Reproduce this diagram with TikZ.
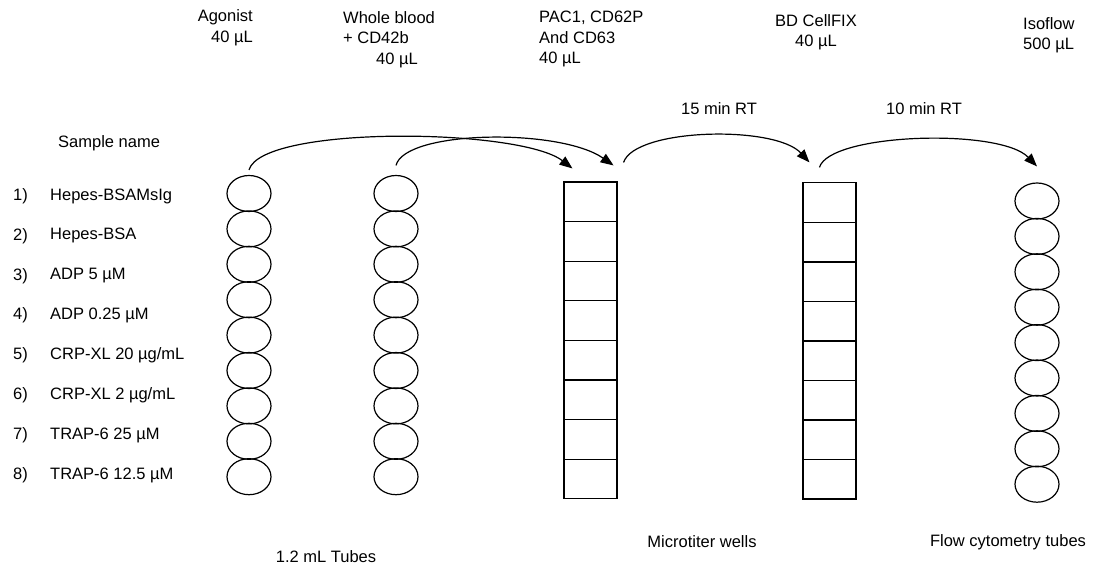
\documentclass[tikz,border=0pt]{standalone}
\usepackage{fontspec}
\setmainfont{Liberation Sans}
\usetikzlibrary{shapes.geometric,arrows.meta}

\tikzset{
  txt/.style={font=\fontsize{16.5}{20.5}\selectfont, inner sep=0pt},
  tube/.style={draw, ellipse, line width=1.2pt, minimum width=44pt, minimum height=36pt, inner sep=0pt},
  well/.style={draw, rectangle, line width=1.1pt, minimum width=53pt, minimum height=39.6pt, inner sep=0pt},
  flow/.style={line width=1.2pt, -{Triangle[length=13pt,width=10pt]}}
}

\begin{document}
\begin{tikzpicture}[x=1pt, y=-1pt]
        \useasboundingbox (0,0) rectangle (1104,567);
        % reagents added at each step
        \node[txt, align=right, anchor=east] (agonist) at (253,27.5) {Agonist\\40 µL};
        \node[txt, align=left, anchor=west] (blood) at (343,39.5) {Whole blood\\+ CD42b\\\hspace*{33pt}40 µL};
        \node[txt, align=left, anchor=west] (stain) at (539,39) {PAC1, CD62P\\And CD63\\40 µL};
        \node[txt, align=center] (fix) at (816,32) {BD CellFIX\\40 µL};
        \node[txt, align=left, anchor=west] (iso) at (1023,35) {Isoflow\\500 µL};
        \node[txt] (rt15) at (719,109) {15 min RT};
        \node[txt] (rt10) at (924,109) {10 min RT};
        % samples
        \node[txt, anchor=west] (sample) at (58,143) {Sample name};
        \foreach \i/\name in {1/Hepes-BSAMsIg, 2/Hepes-BSA, 3/{ADP 5 µM}, 4/{ADP 0.25 µM},
                5/{CRP-XL 20 µg/mL}, 6/{CRP-XL 2 µg/mL}, 7/{TRAP-6 25 µM}, 8/{TRAP-6 12.5 µM}}{
            \node[txt, anchor=west] (num\i) at (13,{196+39.9*(\i-1)}) {\i)};
            \node[txt, anchor=west] (name\i) at (50,{196+39.9*(\i-1)}) {\name};
        }
        % tubes and wells
        \foreach \i in {1,...,9}{
            \node[tube] (a\i) at (249,{193.5+35.4*(\i-1)}) {};
            \node[tube] (b\i) at (396,{193.5+35.4*(\i-1)}) {};
            \node[tube] (c\i) at (1037,{201+35.4*(\i-1)}) {};
        }
        \foreach \i in {1,...,8}{
            \node[well] (w\i) at (590.5,{201.8+39.6*(\i-1)}) {};
            \node[well] (v\i) at (829.5,{202.7+39.5*(\i-1)}) {};
        }
        \node[txt] (tubes) at (326,557) {1.2 mL Tubes};
        \node[txt] (wells) at (702,542) {Microtiter wells};
        \node[txt] (flowtubes) at (1008,542) {Flow cytometry tubes};
        % transfers
        \draw[flow] ([yshift=5pt]a1.north) .. controls (262,125) and (520,128) .. ([xshift=9pt,yshift=13pt]w1.north west);
        \draw[flow] ([yshift=9.5pt]b1.north) .. controls (405,130) and (560,128) .. ([xshift=-4pt,yshift=16pt]w1.north east);
        \draw[flow] ([xshift=6pt,yshift=19pt]w1.north east) .. controls (635,128) and (775,125) .. ([xshift=7pt,yshift=20pt]v1.north west);
        \draw[flow] ([xshift=17pt,yshift=15pt]v1.north west) .. controls (830,133) and (1000,128) .. ([yshift=16pt]c1.north);
\end{tikzpicture}
\end{document}
